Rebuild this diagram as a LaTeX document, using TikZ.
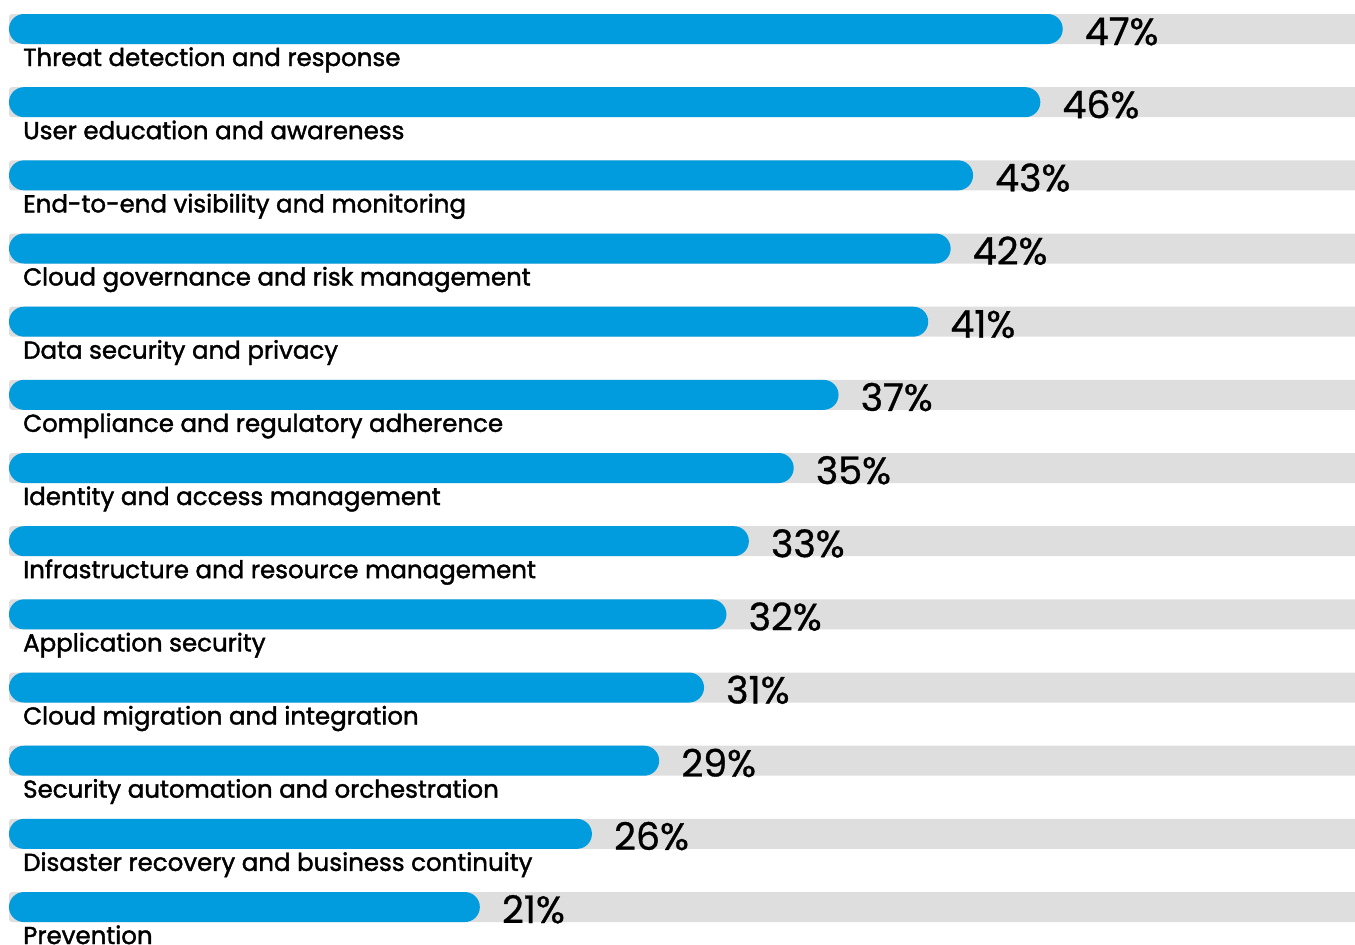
\documentclass[tikz,border=0pt]{standalone}
\usepackage{fontspec}
\setmainfont{Poppins}
\newfontfamily\lblfont[FakeBold=1.6]{Poppins}
\newfontfamily\pctfont[FakeBold=0.8]{Poppins}
\definecolor{barblue}{HTML}{009CDE}
\definecolor{bargray}{HTML}{DEDEDE}
\begin{document}
\begin{tikzpicture}[x=1pt,y=-1pt,
  track/.style={fill=bargray,rounded corners=3pt},
  bar/.style={fill=barblue,rounded corners=15pt},
  lbl/.style={anchor=base west,inner sep=0pt,font=\lblfont\fontsize{24.5}{24.5}\selectfont,text=black},
  pct/.style={anchor=base west,inner sep=0pt,font=\pctfont\fontsize{38}{38}\selectfont,text=black}]
\useasboundingbox (0,0) rectangle (1355,945);
\foreach \i/\p/\t in {0/47/Threat detection and response,
  1/46/User education and awareness,
  2/43/End-to-end visibility and monitoring,
  3/42/Cloud governance and risk management,
  4/41/Data security and privacy,
  5/37/Compliance and regulatory adherence,
  6/35/Identity and access management,
  7/33/Infrastructure and resource management,
  8/32/Application security,
  9/31/Cloud migration and integration,
  10/29/Security automation and orchestration,
  11/26/Disaster recovery and business continuity,
  12/21/Prevention}{
  \pgfmathsetmacro{\yt}{14+73.17*\i}
  \pgfmathsetmacro{\xe}{9+22.42*\p}
  \fill[track] (9,\yt) rectangle (1358,\yt+30);
  \fill[bar] (9,\yt) rectangle (\xe,\yt+30);
  \coordinate (e\i) at (\xe,\yt+30);
  \node[pct] (p\i) at ([xshift=22pt,yshift=-1pt]e\i) {\p\%};
  \node[lbl] (l\i) at (23,\yt+52) {\t};
}
\end{tikzpicture}
\end{document}
